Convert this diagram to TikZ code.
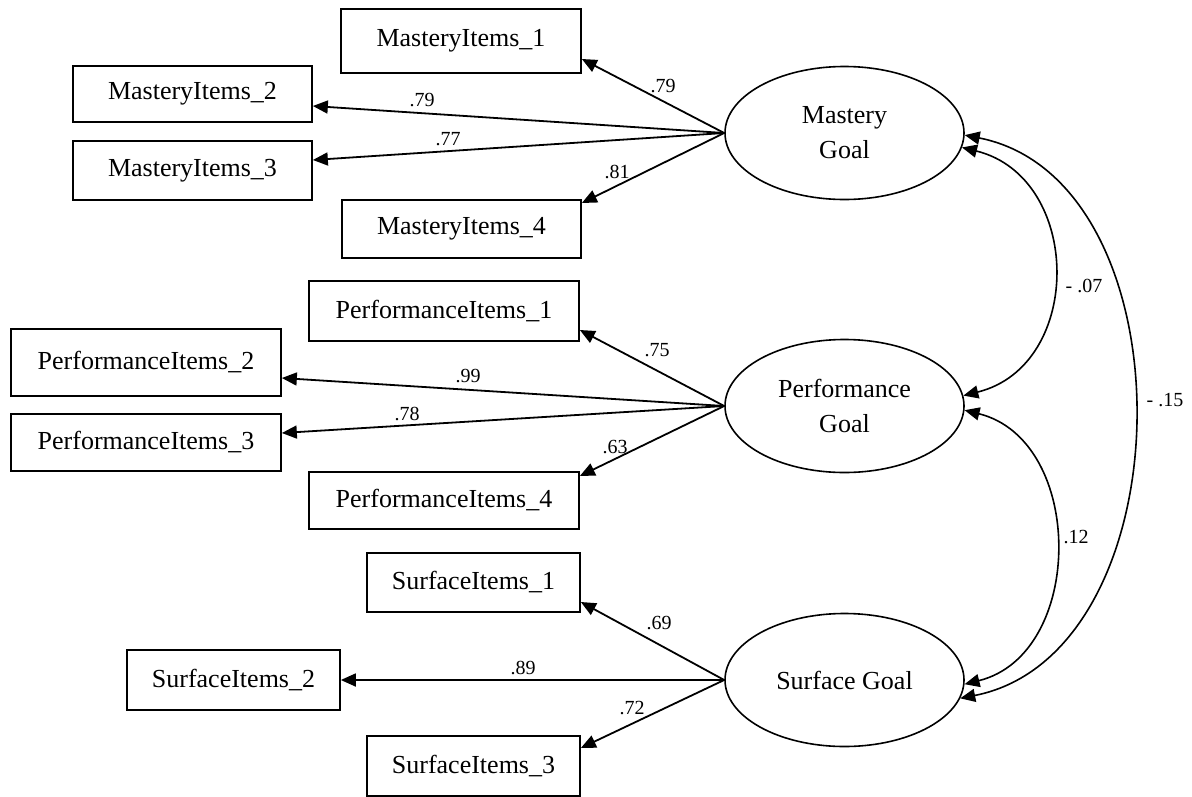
\documentclass[tikz,border=0pt]{standalone}
\usepackage{fontspec}
\setmainfont{Liberation Serif}
\usetikzlibrary{shapes.geometric,arrows.meta,calc}
\begin{document}
\begin{tikzpicture}[x=1pt,y=-1pt,
  box/.style={draw,line width=1.7pt,rectangle,inner sep=0pt,font=\fontsize{26}{30}\selectfont},
  lat/.style={draw,line width=1.6pt,ellipse,inner sep=0pt,minimum width=239pt,minimum height=133pt,align=center,font=\fontsize{26}{35}\selectfont},
  arr/.style={line width=1.8pt,-{Triangle[length=15pt,width=13pt]}},
  cov/.style={line width=1.6pt,{Triangle[length=15pt,width=13pt]}-{Triangle[length=15pt,width=13pt]}},
  lab/.style={font=\fontsize{20}{24}\selectfont,inner sep=0pt}
]
\useasboundingbox (0,0) rectangle (1192,796);
% latent variables
\node[lat] (mg) at (844.5,133) {Mastery\\Goal};
\node[lat] (pg) at (844.5,406) {Performance\\Goal};
\node[lat] (sg) at (844.5,680) {Surface Goal};
% mastery items
\node[box,minimum width=240pt,minimum height=64pt] (m1) at (461,41) {MasteryItems\_1};
\node[box,minimum width=239pt,minimum height=56pt] (m2) at (192.5,94) {MasteryItems\_2};
\node[box,minimum width=239pt,minimum height=59pt] (m3) at (192.5,170.5) {MasteryItems\_3};
\node[box,minimum width=239pt,minimum height=58pt] (m4) at (461.5,229) {MasteryItems\_4};
% performance items
\node[box,minimum width=270pt,minimum height=60pt] (p1) at (444,311) {PerformanceItems\_1};
\node[box,minimum width=270pt,minimum height=67pt] (p2) at (146,362.5) {PerformanceItems\_2};
\node[box,minimum width=270pt,minimum height=57pt] (p3) at (146,442.5) {PerformanceItems\_3};
\node[box,minimum width=270pt,minimum height=57pt] (p4) at (444,500.5) {PerformanceItems\_4};
% surface items
\node[box,minimum width=213pt,minimum height=59pt] (s1) at (473.5,582.5) {SurfaceItems\_1};
\node[box,minimum width=213pt,minimum height=60pt] (s2) at (233.5,680) {SurfaceItems\_2};
\node[box,minimum width=213pt,minimum height=60pt] (s3) at (473.5,766) {SurfaceItems\_3};
% loadings
\draw[arr] (mg.west) -- ($(m1.east)+(0,18)$);
\draw[arr] (mg.west) -- ($(m2.east)+(0,12)$);
\draw[arr] (mg.west) -- ($(m3.east)+(0,-10.5)$);
\draw[arr] (mg.west) -- ($(m4.east)+(0,-26)$);
\draw[arr] (pg.west) -- ($(p1.east)+(0,19)$);
\draw[arr] (pg.west) -- ($(p2.east)+(0,15.5)$);
\draw[arr] (pg.west) -- ($(p3.east)+(0,-9.5)$);
\draw[arr] (pg.west) -- ($(p4.east)+(0,-24.5)$);
\draw[arr] (sg.west) -- ($(s1.east)+(0,19.5)$);
\draw[arr] (sg.west) -- (s2.east);
\draw[arr] (sg.west) -- ($(s3.east)+(0,-18)$);
% covariances
\draw[cov] (mg.-1) .. controls ($(mg.-1)+(228,45)$) and ($(sg.-9)+(228,-45)$) .. (sg.-9);
\draw[cov] (mg.-7) .. controls ($(mg.-7)+(121,30)$) and ($(pg.5)+(121,-30)$) .. (pg.5);
\draw[cov] (pg.-2) .. controls ($(pg.-2)+(121,30)$) and ($(sg.-2.5)+(121,-30)$) .. (sg.-2.5);
% labels
\node[lab] (l1) at (663,86) {.79};
\node[lab] (l2) at (422,100) {.79};
\node[lab] (l3) at (448,139) {.77};
\node[lab] (l4) at (617,172) {.81};
\node[lab] (l5) at (657,350) {.75};
\node[lab] (l6) at (468,376) {.99};
\node[lab] (l7) at (407,414) {.78};
\node[lab] (l8) at (615,447) {.63};
\node[lab] (l9) at (659,623) {.69};
\node[lab] (l10) at (523,668) {.89};
\node[lab] (l11) at (632,708) {.72};
\node[lab] (c1) at (1084,286) {- .07};
\node[lab] (c2) at (1076,537) {.12};
\node[lab] (c3) at (1165,400) {- .15};
\end{tikzpicture}
\end{document}
